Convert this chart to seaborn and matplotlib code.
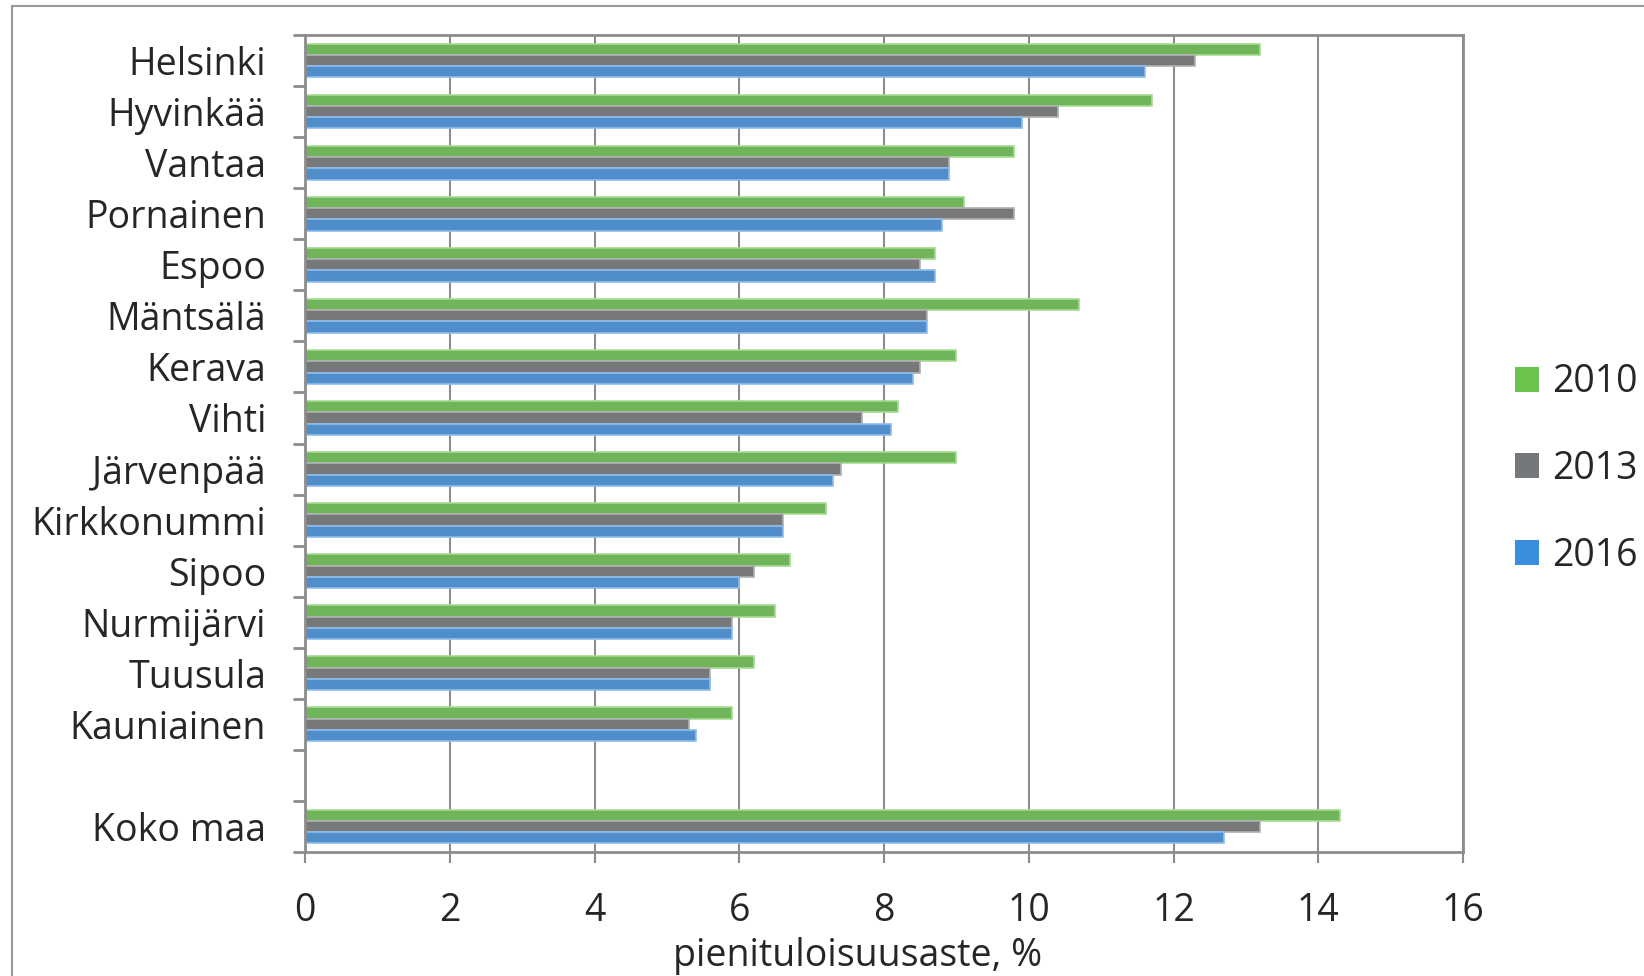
import numpy as np
import pandas as pd
import matplotlib
matplotlib.use('Agg')
import matplotlib.pyplot as plt
import seaborn as sns
from matplotlib.patches import Rectangle, Patch

# municipalities, top to bottom (blank slot before the national figure)
CITIES = [
    'Helsinki', 'Hyvinkää', 'Vantaa', 'Pornainen', 'Espoo', 'Mäntsälä',
    'Kerava', 'Vihti', 'Järvenpää', 'Kirkkonummi', 'Sipoo', 'Nurmijärvi',
    'Tuusula', 'Kauniainen', 'Koko maa',
]
YEARS = ['2010', '2013', '2016']

RATE_2010 = [13.2, 11.7, 9.8, 9.1, 8.7, 10.7, 9.0, 8.2, 9.0, 7.2, 6.7, 6.5, 6.2, 5.9, 14.3]
RATE_2013 = [12.3, 10.4, 8.9, 9.8, 8.5, 8.6, 8.5, 7.7, 7.4, 6.6, 6.2, 5.9, 5.6, 5.3, 13.2]
RATE_2016 = [11.6, 9.9, 8.9, 8.8, 8.7, 8.6, 8.4, 8.1, 7.3, 6.6, 6.0, 5.9, 5.6, 5.4, 12.7]

COLORS = ['#6AC44B', '#75787B', '#3B8EDE']
EDGES = ['#A6DC92', '#AEB0B2', '#8EBCEB']

df = pd.DataFrame({'kunta': CITIES, '2010': RATE_2010,
                   '2013': RATE_2013, '2016': RATE_2016})
df_long = df.melt(id_vars='kunta', var_name='vuosi', value_name='arvo')

order = CITIES[:-1] + [' '] + CITIES[-1:]

sns.set_style('white')
plt.rcParams['font.family'] = ['Open Sans', 'DejaVu Sans']

fig = plt.figure(figsize=(16.44, 9.76), dpi=100)
ax = fig.add_axes([305 / 1644, 1 - 852 / 976, (1463 - 305) / 1644, (852 - 35) / 976])

sns.barplot(
    data=df_long, x='arvo', y='kunta', hue='vuosi',
    order=order, hue_order=YEARS, palette=COLORS,
    orient='h', width=0.66, errorbar=None, legend=False, ax=ax,
)
for bars, ec in zip(ax.containers, EDGES):
    for b in bars:
        b.set_edgecolor(ec)
        b.set_linewidth(1.2)

ax.set_xlim(0, 16)
ax.set_ylim(len(order) - 0.5, -0.5)
ax.set_xticks(np.arange(0, 17, 2))
ax.grid(axis='x', color='#8C8C8C', lw=1.5)
ax.set_axisbelow(True)
for s in ax.spines.values():
    s.set_color('#8C8C8C')
    s.set_linewidth(2)

ax.set_yticks(range(len(order)))
ax.set_yticklabels(order)
ax.set_yticks(np.arange(-0.5, len(order)), minor=True)
ax.tick_params(axis='y', which='major', length=0, pad=28, labelsize=27)
ax.tick_params(axis='y', which='minor', length=9, width=2, color='#8C8C8C', left=True)
ax.tick_params(axis='x', length=8, width=1.5, color='#8C8C8C', pad=21,
               labelsize=27, bottom=True)
ax.set_ylabel('')
ax.set_xlabel('pienituloisuusaste, %', fontsize=27, labelpad=5)
ax.xaxis.label.set_x(0.477)

handles = [Patch(facecolor=c, edgecolor='none') for c in COLORS]
fig.legend(handles, YEARS, loc='center left', bbox_to_anchor=(1500 / 1644, 1 - 469 / 976),
           frameon=False, fontsize=27, handlelength=0.65, handleheight=0.65,
           handletextpad=0.35, labelspacing=1.3, borderaxespad=0)

# outer chart frame
fig.patches.append(Rectangle((12 / 1644, -0.1), 1.2, 1 - 6 / 976 + 0.1,
                             transform=fig.transFigure, fill=False,
                             edgecolor='#999999', lw=1.5))

fig.savefig('out.png', dpi=100)
